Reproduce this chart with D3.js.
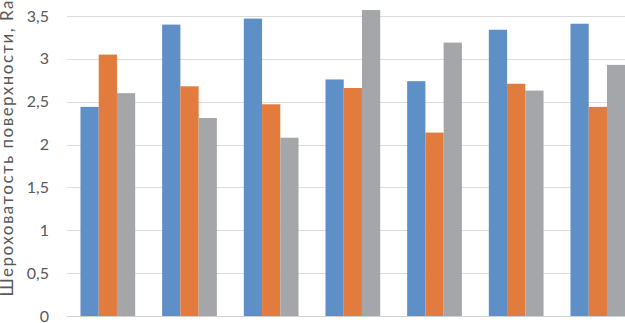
<!DOCTYPE html>
<html>
<head>
<meta charset="utf-8">
<script src="https://cdn.jsdelivr.net/npm/d3@7"></script>
<style>
  body { margin: 0; background: #fff; }
  text { font-family: Lato, "Open Sans", sans-serif; fill: #595959; }
</style>
</head>
<body>
<script>
//SVG dimension variables
var w = 625, h = 323;

// chart data (x labels are cut off in the reference)
var categories = ["1", "2", "3", "4", "5", "6", "7"];
var series = ["s1", "s2", "s3"];
var s1 = [2.44, 3.40, 3.47, 2.76, 2.74, 3.34, 3.41];
var s2 = [3.05, 2.68, 2.47, 2.66, 2.14, 2.71, 2.44];
var s3 = [2.60, 2.31, 2.08, 3.57, 3.19, 2.63, 2.93];
var yTicks = [0, 0.5, 1, 1.5, 2, 2.5, 3, 3.5, 4];
var colors = ["#5e8fc7", "#e27c3e", "#a5a6a9"];

var rows = categories.map(function(c, i){
    return { cat: c, values: [s1[i], s2[i], s3[i]] };
});

var container = d3.select("body")
    .append("svg")
    .attr("width", w)
    .attr("height", h);

// scales
var y = d3.scaleLinear()
    .domain([0, 4])
    .range([316, 316 - 4 * 85.71]);

var x = d3.scaleBand()
    .domain(categories)
    .range([67, 67 + 7 * 81.67])
    .paddingInner(0.33)
    .paddingOuter(0.165);

var xs = d3.scaleBand()
    .domain(series)
    .range([0, x.bandwidth()]);

// comma decimal format
var locale = d3.formatLocale({ decimal: ",", thousands: " ", grouping: [3], currency: ["", ""] });
var fmt = locale.format("~g");

// gridlines
container.append("g")
    .selectAll("line")
    .data(yTicks)
    .enter()
    .append("line")
    .attr("x1", 67)
    .attr("x2", w)
    .attr("y1", function(d){ return Math.round(y(d)) + 0.5; })
    .attr("y2", function(d){ return Math.round(y(d)) + 0.5; })
    .attr("stroke", function(d){ return d === 0 ? "#d0d0d0" : "#dcdcdc"; })
    .attr("stroke-width", 1);

// bars
var groups = container.append("g")
    .selectAll("g")
    .data(rows)
    .enter()
    .append("g")
    .attr("transform", function(d){ return "translate(" + x(d.cat) + ",0)"; });

groups.selectAll("rect")
    .data(function(d){ return d.values; })
    .enter()
    .append("rect")
    .attr("x", function(d, i){ return xs(series[i]); })
    .attr("width", xs.bandwidth())
    .attr("y", function(d){ return y(d); })
    .attr("height", function(d){ return y(0) - y(d); })
    .attr("fill", function(d, i){ return colors[i]; });

// y axis labels
var yAxis = d3.axisLeft(y)
    .tickValues(yTicks)
    .tickFormat(fmt)
    .tickSize(0)
    .tickPadding(0);

var axis = container.append("g")
    .attr("transform", "translate(49,0)")
    .call(yAxis);
axis.select(".domain").remove();
axis.selectAll("text")
    .attr("font-size", 16)
    .attr("font-family", "Lato, 'Open Sans', sans-serif")
    .attr("fill", "#595959");

// axis title (cut at the top edge, as in the reference)
container.append("text")
    .attr("transform", "translate(13,148.5) rotate(-90)")
    .attr("text-anchor", "middle")
    .attr("font-size", 17)
    .attr("textLength", 296)
    .attr("lengthAdjust", "spacing")
    .text("Шероховатость поверхности, Ra");
</script>
</body>
</html>
